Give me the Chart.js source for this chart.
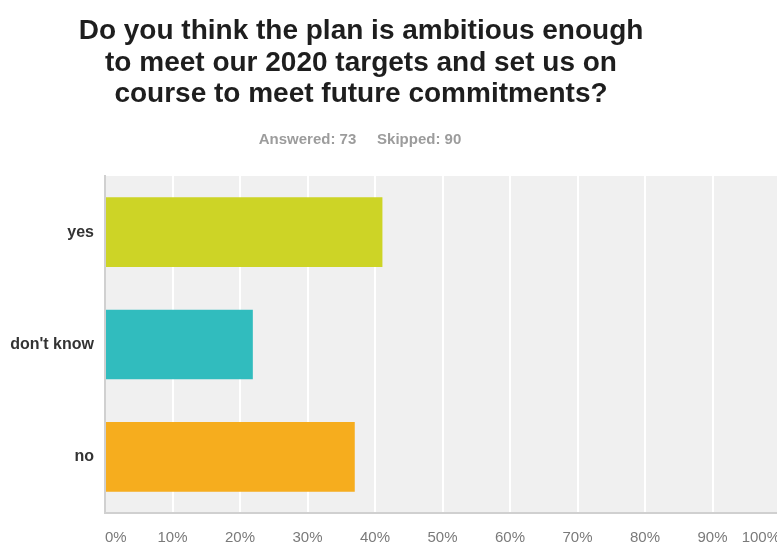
<!DOCTYPE html>
<html><head><meta charset="utf-8">
<script src="https://cdn.jsdelivr.net/npm/chart.js@4.4.0/dist/chart.umd.min.js"></script>
<style>
html,body{margin:0;padding:0;background:#fff;overflow:hidden;width:777px;height:544px;}
#wrap{position:absolute;left:0;top:0;width:780px;height:544px;}
#title{position:absolute;left:0;top:14px;width:722px;text-align:center;font:bold 28px "Liberation Sans",Arial,sans-serif;line-height:31.5px;color:#1e1e1e;}
#sub{position:absolute;left:0;top:130px;width:720px;text-align:center;font:bold 15px "Liberation Sans",Arial,sans-serif;line-height:18px;color:#9c9c9c;white-space:pre;}
</style></head>
<body>
<div id="wrap"><canvas id="c" width="780" height="544"></canvas></div>
<div id="title">Do you think the plan is ambitious enough<br>to meet our 2020 targets and set us on<br>course to meet future commitments?</div>
<div id="sub">Answered: 73     Skipped: 90</div>
<script>
const categories = ["yes", "don't know", "no"];
const percentValues = [41.1, 21.9, 37.0];
const barColors = ["#cdd426", "#31bcbe", "#f6ad1e"];
const tickLabels = ["0%","10%","20%","30%","40%","50%","60%","70%","80%","90%","100%"];

const bgPlugin = {
  id: 'bg',
  beforeDraw(chart) {
    const {ctx, chartArea: a} = chart;
    ctx.save();
    ctx.fillStyle = '#f0f0f0';
    ctx.fillRect(a.left, a.top, a.right - a.left, a.bottom - a.top);
    ctx.restore();
  }
};

new Chart(document.getElementById('c'), {
  type: 'bar',
  data: {
    labels: categories,
    datasets: [{
      data: percentValues,
      backgroundColor: barColors,
      borderWidth: 0,
      barPercentage: 0.62,
      categoryPercentage: 1
    }]
  },
  options: {
    indexAxis: 'y',
    responsive: false,
    animation: false,
    layout: { padding: { top: 176, left: 0, right: 0, bottom: 0 } },
    plugins: { legend: { display: false }, tooltip: { enabled: false } },
    scales: {
      x: {
        min: 0, max: 100,
        afterBuildTicks(axis) { axis.ticks = tickLabels.map((t, i) => ({ value: i * 10 })); },
        afterFit(axis) { axis.height = 31; axis.paddingLeft = 0; axis.paddingRight = 0; },
        grid: { color: '#ffffff', lineWidth: 2, drawTicks: false },
        border: { display: true, color: '#d0d0d0', width: 2 },
        ticks: {
          align: 'inner',
          padding: 16,
          maxRotation: 0,
          autoSkip: false,
          color: '#7a7a7a',
          font: { family: '"Liberation Sans", Arial, sans-serif', size: 15 },
          callback(v, i) { return tickLabels[i]; }
        }
      },
      y: {
        afterFit(axis) { axis.width = 105; axis.paddingTop = 0; axis.paddingBottom = 0; },
        grid: { display: false, drawTicks: false },
        border: { display: true, color: '#d0d0d0', width: 2 },
        ticks: {
          crossAlign: 'near',
          padding: 11,
          color: '#333',
          font: { family: '"Liberation Sans", Arial, sans-serif', size: 16, weight: 'bold' }
        }
      }
    }
  },
  plugins: [bgPlugin]
});
</script>
</body></html>
